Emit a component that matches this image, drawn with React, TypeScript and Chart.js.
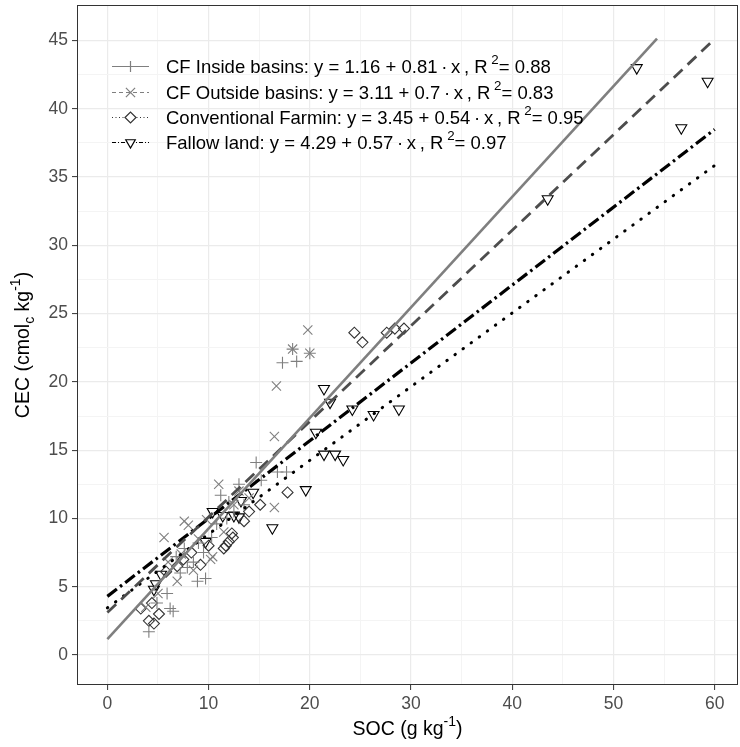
import React, { useEffect, useRef } from 'react';
import { Chart, registerables } from 'chart.js';

Chart.register(...registerables);

const FONT = "'Liberation Sans', Arial, sans-serif";

// Regression fits (from legend)
const seriesNames = ['CF Inside basins', 'CF Outside basins', 'Conventional Farmin', 'Fallow land'];
const intercepts = [1.16, 3.11, 3.45, 4.29];
const slopes = [0.81, 0.7, 0.54, 0.57];
const rSquared = [0.88, 0.83, 0.95, 0.97];
const fitXStart = [0, 0, 0, 0];
const fitXEnd = [54.3, 60, 60, 60];

// Observations: SOC (g/kg) and CEC (cmolc/kg)
const insideSOC = [4.1, 6.2, 6.5, 4.9, 5.9, 8.9, 9.7, 7.9, 7.2, 6.8, 7.6, 8.5, 9.0, 9.5, 10.3, 10.8, 11.8, 12.5, 12.0, 11.2, 13.0, 13.5, 15.2, 16.8, 17.7, 14.7, 17.3, 18.7, 18.3, 20.0];
const insideCEC = [1.7, 3.4, 3.2, 3.8, 4.5, 5.4, 5.6, 6.4, 6.0, 7.2, 7.8, 6.8, 8.2, 7.5, 8.6, 9.6, 10.0, 10.5, 11.2, 11.7, 12.5, 11.0, 12.8, 13.4, 13.4, 14.1, 21.4, 21.5, 22.4, 22.1];

const outsideSOC = [19.8, 16.7, 16.5, 18.3, 20.0, 16.5, 11.0, 7.6, 5.6, 10.4, 6.9, 10.2, 9.8, 8.0, 9.0, 12.5, 13.0, 3.8, 5.0, 6.0, 7.3, 8.5, 11.5, 14.0];
const outsideCEC = [23.8, 19.7, 16.0, 22.4, 22.1, 10.8, 12.5, 9.8, 8.6, 7.2, 5.4, 7.0, 9.9, 9.5, 8.5, 11.0, 12.0, 3.5, 4.5, 6.8, 7.4, 6.2, 9.0, 11.5];

const convSOC = [24.4, 25.2, 27.6, 28.4, 29.3, 17.8, 15.1, 13.5, 12.4, 11.7, 12.0, 12.3, 11.5, 3.3, 4.1, 4.6, 5.1, 4.4, 6.9, 5.8, 7.5, 8.3, 9.2, 10.0, 14.0];
const convCEC = [23.6, 22.9, 23.6, 23.9, 23.9, 11.9, 11.0, 9.8, 8.6, 8.0, 8.3, 8.9, 7.8, 3.4, 2.5, 2.3, 3.0, 3.8, 6.5, 6.1, 7.0, 7.5, 6.6, 8.0, 10.5];

const fallowSOC = [52.3, 59.3, 56.7, 43.5, 21.4, 22.0, 24.2, 26.3, 28.8, 20.6, 21.4, 22.5, 23.3, 16.3, 19.6, 5.3, 4.8, 4.6, 10.4, 11.4, 12.5, 13.0, 13.2, 9.7, 14.4];
const fallowCEC = [43.0, 42.0, 38.6, 33.4, 19.5, 18.5, 18.0, 17.6, 18.0, 16.3, 14.7, 14.7, 14.3, 9.3, 12.1, 5.9, 5.2, 4.8, 10.5, 10.2, 10.2, 10.1, 11.3, 8.3, 11.9];

// Axis ticks
const xMajorTicks = [0, 10, 20, 30, 40, 50, 60];
const xMinorTicks = [5, 15, 25, 35, 45, 55];
const yMajorTicks = [0, 5, 10, 15, 20, 25, 30, 35, 40, 45];
const yMinorTicks = [2.5, 7.5, 12.5, 17.5, 22.5, 27.5, 32.5, 37.5, 42.5];

// Styles
const lineColors = ['#7F7F7F', '#4D4D4D', '#000000', '#000000'];
const lineDashes: number[][] = [[], [12, 7], [0.5, 9.5], [12, 4, 2.5, 4]];
const lineCaps: CanvasLineCap[] = ['butt', 'butt', 'round', 'butt'];
const lineWidths = [2.6, 2.8, 3.0, 3.2];
const pointStyles = ['cross', 'crossRot', 'rectRot', 'triangle'];
const pointRadii = [6, 6.5, 5.5, 6.3];
const pointRotations = [0, 0, 0, 180];
const pointColors = ['#7F7F7F', '#7F7F7F', '#333333', '#000000'];

const soc = [insideSOC, outsideSOC, convSOC, fallowSOC];
const cec = [insideCEC, outsideCEC, convCEC, fallowCEC];

type Part = { t: string; k?: 'sup' | 'sub' };

function drawRich(ctx: CanvasRenderingContext2D, parts: Part[], x: number, baseline: number, size: number, color: string, align: 'left' | 'center') {
  let total = 0;
  for (const p of parts) {
    ctx.font = `${p.k ? size * 0.72 : size}px ${FONT}`;
    total += ctx.measureText(p.t).width;
  }
  let cx = align === 'center' ? x - total / 2 : x;
  ctx.fillStyle = color;
  ctx.textAlign = 'left';
  ctx.textBaseline = 'alphabetic';
  for (const p of parts) {
    const s = p.k ? size * 0.72 : size;
    ctx.font = `${s}px ${FONT}`;
    const dy = p.k === 'sup' ? -size * 0.45 : p.k === 'sub' ? size * 0.25 : 0;
    ctx.fillText(p.t, cx, baseline + dy);
    cx += ctx.measureText(p.t).width;
  }
}

function drawMarker(ctx: CanvasRenderingContext2D, style: string, x: number, y: number, r: number, color: string) {
  ctx.save();
  ctx.strokeStyle = color;
  ctx.lineWidth = 1.2;
  ctx.setLineDash([]);
  ctx.beginPath();
  if (style === 'cross') {
    ctx.moveTo(x - r, y); ctx.lineTo(x + r, y);
    ctx.moveTo(x, y - r); ctx.lineTo(x, y + r);
  } else if (style === 'crossRot') {
    const d = r * Math.SQRT1_2;
    ctx.moveTo(x - d, y - d); ctx.lineTo(x + d, y + d);
    ctx.moveTo(x + d, y - d); ctx.lineTo(x - d, y + d);
  } else if (style === 'rectRot') {
    ctx.moveTo(x - r, y); ctx.lineTo(x, y - r); ctx.lineTo(x + r, y); ctx.lineTo(x, y + r); ctx.closePath();
    ctx.fillStyle = '#fff';
    ctx.fill();
  } else {
    const h = r * 0.5;
    const w = r * Math.sqrt(3) / 2;
    ctx.moveTo(x - w, y - h); ctx.lineTo(x + w, y - h); ctx.lineTo(x, y + r); ctx.closePath();
    ctx.fillStyle = '#fff';
    ctx.fill();
  }
  ctx.stroke();
  ctx.restore();
}

const decorPlugin = {
  id: 'decor',
  afterDraw(chart: any) {
    const ctx: CanvasRenderingContext2D = chart.ctx;
    const area = chart.chartArea;
    ctx.save();
    // panel border
    ctx.strokeStyle = '#333333';
    ctx.lineWidth = 1;
    ctx.setLineDash([]);
    ctx.strokeRect(Math.round(area.left) + 0.5, Math.round(area.top) + 0.5, Math.round(area.right - area.left) - 1, Math.round(area.bottom - area.top) - 1);

    // legend
    const rowY = [66, 92, 117, 142];
    const size = 18.5;
    for (let i = 0; i < seriesNames.length; i++) {
      const y = rowY[i];
      ctx.save();
      ctx.strokeStyle = pointColors[i];
      ctx.lineWidth = 1;
      ctx.setLineDash(i === 0 ? [] : i === 1 ? [4, 3] : i === 2 ? [1, 2.5] : [4, 2, 1, 2]);
      ctx.beginPath();
      ctx.moveTo(112, y + 0.5);
      ctx.lineTo(149, y + 0.5);
      ctx.stroke();
      ctx.restore();
      drawMarker(ctx, pointStyles[i], 130.5, y + 0.5, i === 1 ? 6.5 : 5.5, pointColors[i]);
      const parts: Part[] = [
        { t: `${seriesNames[i]}: y = ${intercepts[i]} + ${slopes[i]}\u2009\u00B7\u2009x\u2009, R\u2009` },
        { t: '2', k: 'sup' },
        { t: `= ${rSquared[i].toFixed(2)}` },
      ];
      drawRich(ctx, parts, 166, y + size * 0.36, size, '#000', 'left');
    }

    // x title
    drawRich(ctx, [{ t: 'SOC (g kg' }, { t: '-1', k: 'sup' }, { t: ')' }], (area.left + area.right) / 2, 735, 19.5, '#000', 'center');

    // y title
    ctx.save();
    ctx.translate(29, (area.top + area.bottom) / 2);
    ctx.rotate(-Math.PI / 2);
    drawRich(ctx, [{ t: 'CEC (cmol' }, { t: 'c', k: 'sub' }, { t: ' kg' }, { t: '-1', k: 'sup' }, { t: ')' }], 0, 0, 19.5, '#000', 'center');
    ctx.restore();

    ctx.restore();
  },
};

function isIn(list: number[], v: number) {
  return list.some((t) => Math.abs(t - v) < 1e-6);
}

function noPad(s: any) {
  s.paddingLeft = 0;
  s.paddingRight = 0;
  s.paddingTop = 0;
  s.paddingBottom = 0;
}

export default function App() {
  const ref = useRef<HTMLCanvasElement>(null);
  useEffect(() => {
    const canvas = ref.current!;
    const lineSets = seriesNames.map((name, i) => ({
      type: 'line' as const,
      label: name + ' fit',
      data: [
        { x: fitXStart[i], y: intercepts[i] + slopes[i] * fitXStart[i] },
        { x: fitXEnd[i], y: intercepts[i] + slopes[i] * fitXEnd[i] },
      ],
      showLine: true,
      borderColor: lineColors[i],
      borderWidth: lineWidths[i],
      borderDash: lineDashes[i],
      borderCapStyle: lineCaps[i],
      pointRadius: 0,
      fill: false,
      tension: 0,
    }));
    const pointSets = seriesNames.map((name, i) => ({
      type: 'scatter' as const,
      label: name,
      data: soc[i].map((x, j) => ({ x, y: cec[i][j] })),
      pointStyle: pointStyles[i],
      pointRadius: pointRadii[i],
      pointRotation: pointRotations[i],
      borderColor: pointColors[i],
      backgroundColor: 'rgba(0,0,0,0)',
      pointBorderWidth: 1.1,
      showLine: false,
    }));

    const chart = new Chart(canvas, {
      type: 'scatter',
      data: { datasets: [...lineSets, ...pointSets] as any },
      options: {
        animation: false,
        responsive: false,
        devicePixelRatio: 1,
        layout: { autoPadding: false, padding: { left: 0, right: 2, top: 5, bottom: 0 } },
        plugins: { legend: { display: false }, tooltip: { enabled: false } },
        scales: {
          x: {
            type: 'linear',
            min: -3,
            max: 62.3,
            afterBuildTicks: (s: any) => {
              s.ticks = [...xMajorTicks, ...xMinorTicks].sort((a, b) => a - b).map((v) => ({ value: v }));
            },
            afterFit: (s: any) => { s.height = 62; noPad(s); },
            ticks: {
              autoSkip: false,
              maxRotation: 0,
              padding: 4,
              color: '#4D4D4D',
              font: { family: FONT, size: 17.5 },
              callback: (v: any) => (isIn(xMajorTicks, Number(v)) ? String(v) : ''),
            },
            grid: {
              color: (c: any) => (c.tick && isIn(xMajorTicks, c.tick.value) ? '#EBEBEB' : '#F4F4F4'),
              lineWidth: (c: any) => (c.tick && isIn(xMajorTicks, c.tick.value) ? 1.2 : 1),
              tickLength: 5,
              tickColor: (c: any) => (c.tick && isIn(xMajorTicks, c.tick.value) ? '#333333' : 'rgba(0,0,0,0)'),
              tickWidth: 1,
            },
            border: { display: false },
          },
          y: {
            type: 'linear',
            min: -2.2,
            max: 47.6,
            afterBuildTicks: (s: any) => {
              s.ticks = [...yMajorTicks, ...yMinorTicks].sort((a, b) => a - b).map((v) => ({ value: v }));
            },
            afterFit: (s: any) => { s.width = 77; noPad(s); },
            ticks: {
              autoSkip: false,
              padding: 4,
              color: '#4D4D4D',
              font: { family: FONT, size: 17.5 },
              callback: (v: any) => (isIn(yMajorTicks, Number(v)) ? String(v) : ''),
            },
            grid: {
              color: (c: any) => (c.tick && isIn(yMajorTicks, c.tick.value) ? '#EBEBEB' : '#F4F4F4'),
              lineWidth: (c: any) => (c.tick && isIn(yMajorTicks, c.tick.value) ? 1.2 : 1),
              tickLength: 5,
              tickColor: (c: any) => (c.tick && isIn(yMajorTicks, c.tick.value) ? '#333333' : 'rgba(0,0,0,0)'),
              tickWidth: 1,
            },
            border: { display: false },
          },
        },
      },
      plugins: [decorPlugin],
    } as any);
    return () => chart.destroy();
  }, []);
  return (
    <div style={{ position: 'fixed', left: 0, top: 0, width: 740, height: 747, background: '#fff' }}>
      <canvas ref={ref} width={740} height={747} style={{ display: 'block', width: 740, height: 747 }} />
    </div>
  );
}
